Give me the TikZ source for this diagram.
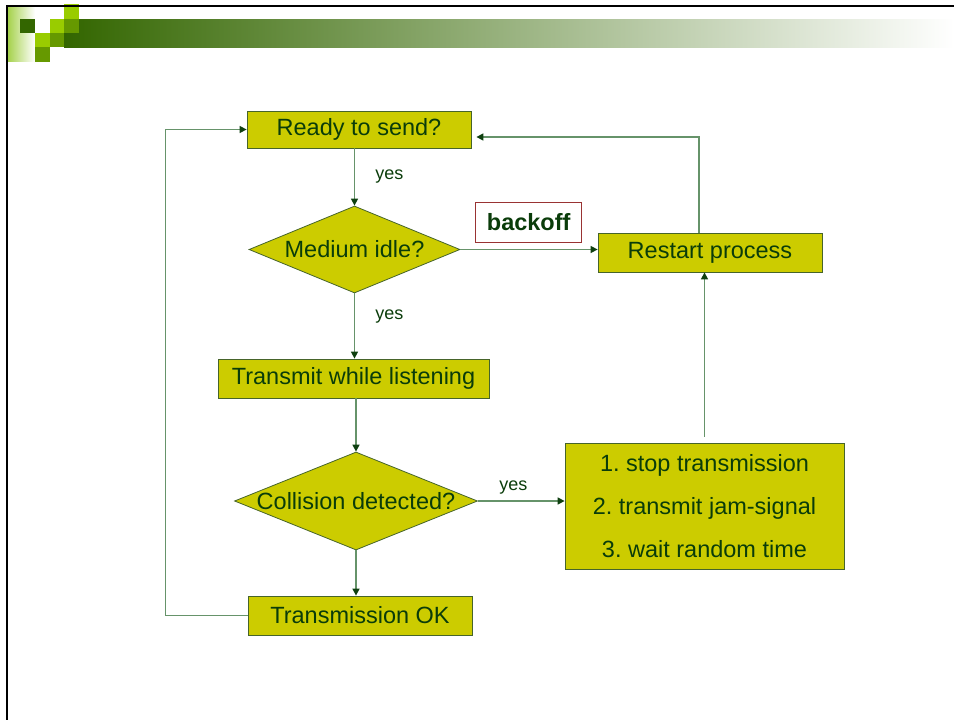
\documentclass[tikz,border=0pt]{standalone}
\usepackage{fontspec}
\setmainfont{Liberation Sans}
\frenchspacing
\usetikzlibrary{
  shapes.geometric,
  arrows.meta
}
\definecolor{slideolive}{HTML}{CCCC00}
\definecolor{slidetext}{HTML}{0A3C0A}
\definecolor{slideedge}{HTML}{46642A}
\definecolor{slideline}{HTML}{66936A}
\definecolor{slidetip}{HTML}{0F4010}
\definecolor{logodark}{HTML}{336600}
\definecolor{logolight}{HTML}{99CC00}
\definecolor{logoolive}{HTML}{669900}
\definecolor{logostrip}{HTML}{A6D24D}
\definecolor{logogrey}{HTML}{A3B19F}
\definecolor{backoffred}{HTML}{993333}
\tikzset{
  flowbox/.style={
    draw=slideedge,
    fill=slideolive,
    text=slidetext,
    line width=0.8pt,
    inner sep=0pt,
    font=\fontsize{23.5}{28}\selectfont
  },
  decision/.style={
    flowbox,
    diamond,
    label={[text=slidetext,inner sep=0pt,font=\fontsize{23.5}{28}\selectfont]center:#1}
  },
  conn/.style={
    draw=slideline,
    line width=1.5pt,
    -{Triangle[length=7pt,width=7pt,color=slidetip]}
  },
  yeslabel/.style={
    text=slidetext,
    inner sep=0pt,
    font=\fontsize{18}{20}\selectfont
  },
  logosquare/.style={
    fill=#1
  }
}

\begin{document}
\begin{tikzpicture}[x=1pt,y=-1pt]
  \useasboundingbox (0,0) rectangle (954,720);

  % slide header
  \shade[left color=logostrip,right color=white] (8,7) rectangle (35,61);
  \shade[left color=logodark,middle color=logogrey,right color=white] (64,19) rectangle (954,47);
  \fill[logosquare=logodark]  (20,19) rectangle (35,33);
  \fill[logosquare=logolight] (50,19) rectangle (64,33);
  \fill[logosquare=logolight] (64,4)  rectangle (79,19);
  \fill[logosquare=logoolive] (64,19) rectangle (79,33);
  \fill[logosquare=logolight] (35,33) rectangle (50,47);
  \fill[logosquare=logoolive] (50,33) rectangle (64,47);
  \fill[logosquare=logoolive] (35,47) rectangle (50,62);
  \draw[line width=2.3pt] (7,720) -- (7,5.7) -- (954,5.7);

  % flow chart
  \node[flowbox,minimum width=224pt,minimum height=37pt] (ready) at (359,129.5) {Ready to send?};
  \node[decision={Medium idle?},minimum width=211pt,minimum height=87pt] (medium) at (354.5,249.5) {};
  \node[flowbox,minimum width=271pt,minimum height=39pt] (transmit) at (353.5,378.5) {Transmit while listening};
  \node[decision={Collision detected?},minimum width=243pt,minimum height=98pt] (collision) at (356,501) {};
  \node[flowbox,minimum width=224pt,minimum height=39pt] (transok) at (360,615.5) {Transmission OK};
  \node[flowbox,minimum width=279pt,minimum height=126pt,align=center,
    font=\fontsize{23.5}{43}\selectfont] (steps) at (704.5,506)
    {1. stop transmission\\2. transmit jam-signal\\3. wait random time};
  \node[flowbox,minimum width=224pt,minimum height=39pt] (restart) at (710,252.5) {Restart process};
  \node[draw=backoffred,fill=white,text=slidetext,line width=0.8pt,inner sep=0pt,
    minimum width=106pt,minimum height=40pt,font=\fontsize{23.5}{28}\selectfont\bfseries]
    (backoff) at (528.7,222) {backoff};

  \draw[conn] (ready.south -| medium.north) -- (medium.north)
    node[yeslabel,pos=0.5,anchor=west,xshift=20pt] {yes};
  \draw[conn] (medium.south) -- (medium.south |- transmit.north)
    node[yeslabel,pos=0.36,anchor=west,xshift=20pt] {yes};
  \draw[conn] (collision.north |- transmit.south) -- (collision.north);
  \draw[conn] (collision.south) -- (collision.south |- transok.north);
  \draw[conn] (transok.west) -- ++(-82,0) |- (ready.west);
  \draw[conn] (collision.east) -- (collision.east -| steps.west)
    node[yeslabel,pos=0.41,yshift=13pt] {yes};
  \draw[conn,shorten <=6pt] (steps.north) -- (steps.north |- restart.south);
  \draw[conn] (medium.east) -- (medium.east -| restart.west);
  \draw[conn,shorten >=5pt] ([xshift=-11pt]restart.north) |- ([yshift=-7.5pt]ready.east);
\end{tikzpicture}
\end{document}
